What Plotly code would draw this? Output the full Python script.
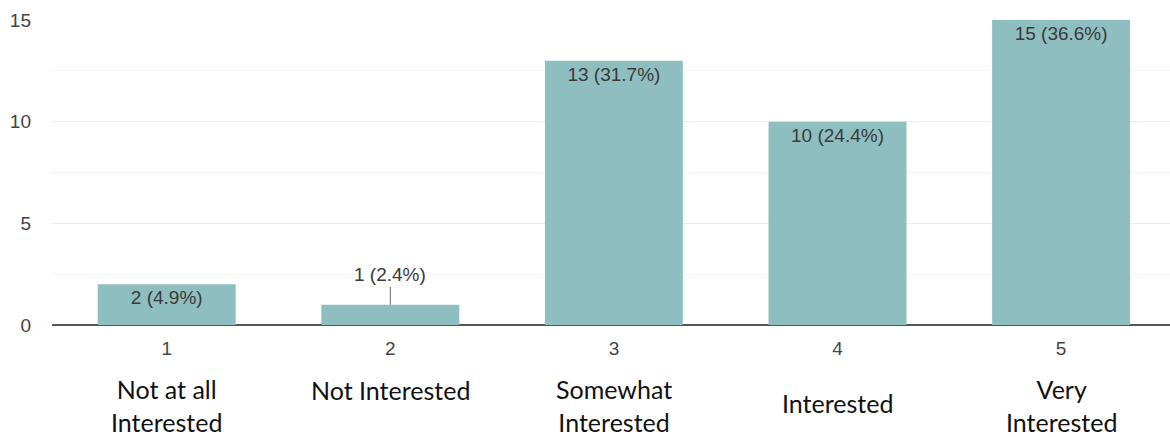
import plotly.graph_objects as go

categories = ["1", "2", "3", "4", "5"]
counts = [2, 1, 13, 10, 15]
category_names = ["Not at all<br>Interested", "Not Interested", "Somewhat<br>Interested",
                  "Interested", "Very<br>Interested"]
y_ticks = [0, 5, 10, 15]

total = sum(counts)
labels = [f"{c} ({c / total * 100:.1f}%)" for c in counts]
small = [c < 2 for c in counts]
bar_text = ["" if s else t for s, t in zip(small, labels)]

fig = go.Figure()
fig.add_trace(go.Bar(
    x=categories, y=counts, text=bar_text,
    textposition="inside", insidetextanchor="end", textangle=0,
    textfont=dict(family="Liberation Sans, Arial", size=19, color="#3a3a3a"),
    marker=dict(color="#8fbec1", line=dict(width=0)),
    hoverinfo="skip",
))

for i, (c, s, t) in enumerate(zip(counts, small, labels)):
    if s:
        fig.add_annotation(x=i, y=c, xref="x", yref="y", text=t, showarrow=True,
                           arrowhead=0, arrowwidth=1, arrowcolor="#666", ax=0, ay=-30,
                           standoff=0,
                           font=dict(family="Liberation Sans, Arial", size=19, color="#3a3a3a"))

for i, name in enumerate(category_names):
    if "<br>" in name:
        shift = -(405 - 325)
    elif name == "Not Interested":
        shift = -(390 - 325)
    else:
        shift = -(403 - 325)
    fig.add_annotation(x=i, y=0, xref="x", yref="paper", text=name, showarrow=False,
                       yanchor="middle", yshift=shift,
                       font=dict(family="Lato, Carlito, sans-serif", size=25, color="#111"))

fig.update_layout(
    width=1170, height=437,
    margin=dict(l=52, r=0, t=20, b=112),
    paper_bgcolor="white", plot_bgcolor="white",
    bargap=0.383, showlegend=False,
    xaxis=dict(type="category", range=[-0.513, 4.487], showgrid=False, ticks="", ticklabelstandoff=10,
               tickfont=dict(family="Liberation Sans, Arial", size=19, color="#444"),
               showline=False, zeroline=False, fixedrange=True),
    yaxis=dict(range=[0, 15], tickvals=y_ticks, showgrid=True, gridcolor="#ebebeb", gridwidth=1,
               zeroline=True, zerolinecolor="#555", zerolinewidth=2,
               ticks="", ticklabelstandoff=20,
               tickfont=dict(family="Liberation Sans, Arial", size=19, color="#444"),
               minor=dict(tickvals=[2.5, 7.5, 12.5], showgrid=True, gridcolor="#f3f3f3", gridwidth=1),
               fixedrange=True),
)

fig.write_html("out.html")
